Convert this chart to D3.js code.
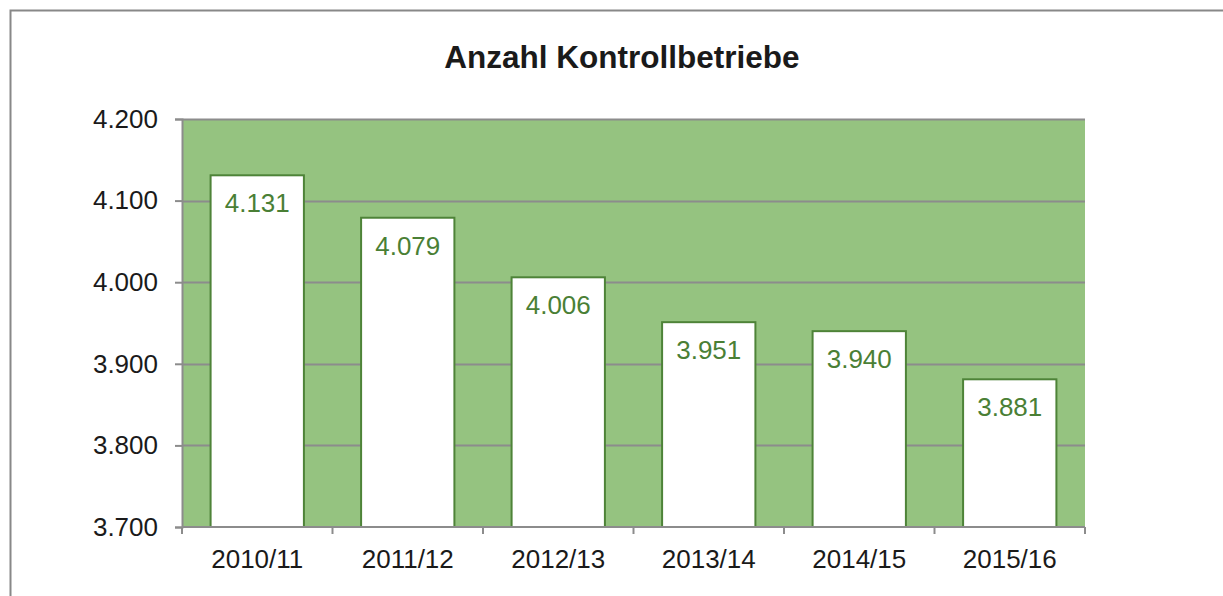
<!DOCTYPE html>
<html>
<head>
<meta charset="utf-8">
<title>Anzahl Kontrollbetriebe</title>
<script src="https://cdn.jsdelivr.net/npm/d3@7"></script>
<style>
body { margin: 0; background: #fff; }
text { font-family: "Liberation Sans", Arial, sans-serif; }
</style>
</head>
<body>
<script>
// data
var years = ["2010/11", "2011/12", "2012/13", "2013/14", "2014/15", "2015/16"];
var counts = [4131, 4079, 4006, 3951, 3940, 3881];
var yTicks = [3700, 3800, 3900, 4000, 4100, 4200];

var width = 1223, height = 596;
var plot = {left: 182, right: 1085, top: 119, bottom: 527};

var fmt = function(v){ return d3.format(",")(v).replace(/,/g, "."); };

var svg = d3.select("body").append("svg")
	.attr("width", width)
	.attr("height", height);

// outer frame (runs off the right and bottom edge)
svg.append("rect")
	.attr("x", 10.5).attr("y", 10.5)
	.attr("width", 1240).attr("height", 620)
	.attr("fill", "none")
	.attr("stroke", "#888")
	.attr("stroke-width", 2);

svg.append("text")
	.attr("x", 622).attr("y", 68)
	.attr("text-anchor", "middle")
	.attr("font-size", "31.5px")
	.attr("font-weight", "bold")
	.attr("fill", "#1a1a1a")
	.text("Anzahl Kontrollbetriebe");

var x = d3.scaleBand()
	.domain(years)
	.range([plot.left, plot.right])
	.paddingInner(0.38)
	.paddingOuter(0.19);

var y = d3.scaleLinear()
	.domain([3700, 4200])
	.range([plot.bottom, plot.top]);

// plot background
svg.append("rect")
	.attr("x", plot.left).attr("y", plot.top)
	.attr("width", plot.right - plot.left)
	.attr("height", plot.bottom - plot.top)
	.attr("fill", "#95c380");

// gridlines
svg.append("g")
	.selectAll("line")
	.data(yTicks.slice(1))
	.enter().append("line")
	.attr("x1", plot.left).attr("x2", plot.right)
	.attr("y1", function(d){ return Math.round(y(d)) + 0.5; })
	.attr("y2", function(d){ return Math.round(y(d)) + 0.5; })
	.attr("stroke", "#8c8c8c")
	.attr("stroke-width", 2);

// y axis
var yAxis = svg.append("g")
	.attr("transform", "translate(" + plot.left + ",0)")
	.call(d3.axisLeft(y).tickValues(yTicks).tickFormat(fmt).tickSize(7).tickPadding(17));
yAxis.select(".domain").attr("stroke", "#8c8c8c").attr("stroke-width", 2);
yAxis.selectAll(".tick line").attr("stroke", "#8c8c8c").attr("stroke-width", 2);
yAxis.selectAll("text").attr("font-size", "26px").attr("fill", "#1a1a1a")
	.attr("font-family", "'Liberation Sans', Arial, sans-serif");

// bars
var bars = svg.append("g")
	.selectAll("g")
	.data(counts)
	.enter().append("g");

bars.append("rect")
	.attr("x", function(d, i){ return x(years[i]); })
	.attr("y", function(d){ return y(d); })
	.attr("width", x.bandwidth())
	.attr("height", function(d){ return y(3700) - y(d); })
	.attr("fill", "#fff")
	.attr("stroke", "#4e8338")
	.attr("stroke-width", 2);

bars.append("text")
	.attr("x", function(d, i){ return x(years[i]) + x.bandwidth() / 2; })
	.attr("y", function(d){ return y(d) + 37; })
	.attr("text-anchor", "middle")
	.attr("font-size", "26px")
	.attr("fill", "#4a7f35")
	.text(fmt);

// x axis with ticks at category boundaries
var xAxisG = svg.append("g");
xAxisG.append("line")
	.attr("x1", plot.left).attr("x2", plot.right)
	.attr("y1", plot.bottom).attr("y2", plot.bottom)
	.attr("stroke", "#8c8c8c").attr("stroke-width", 2);

var bounds = d3.range(years.length + 1).map(function(i){ return plot.left + i * (plot.right - plot.left) / years.length; });
xAxisG.selectAll("line.tick")
	.data(bounds)
	.enter().append("line")
	.attr("class", "tick")
	.attr("x1", function(d){ return d; }).attr("x2", function(d){ return d; })
	.attr("y1", plot.bottom).attr("y2", plot.bottom + 7)
	.attr("stroke", "#8c8c8c").attr("stroke-width", 2);

xAxisG.selectAll("text")
	.data(years)
	.enter().append("text")
	.attr("x", function(d){ return x(d) + x.bandwidth() / 2; })
	.attr("y", 568)
	.attr("text-anchor", "middle")
	.attr("font-size", "26px")
	.attr("fill", "#1a1a1a")
	.text(function(d){ return d; });
</script>
</body>
</html>
